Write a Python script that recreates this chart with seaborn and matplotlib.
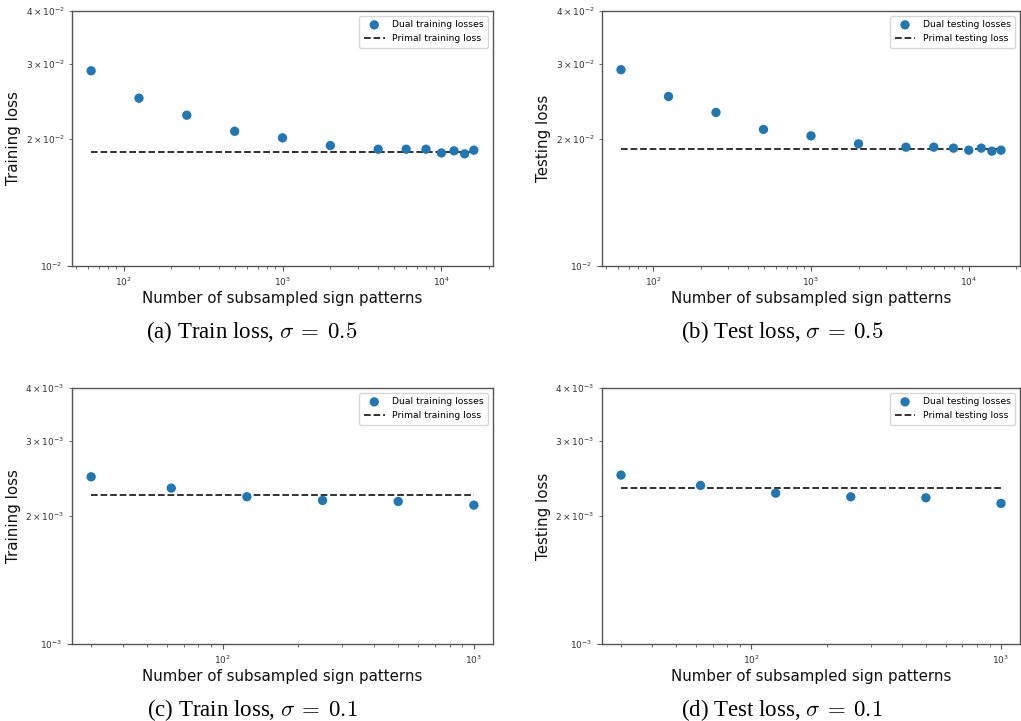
import numpy as np
import pandas as pd
import matplotlib
matplotlib.use("Agg")
import matplotlib.pyplot as plt
import seaborn as sns

# ---------------- data ----------------
patterns_s05 = [62.5, 125, 250, 500, 1000, 2000, 4000, 6000, 8000, 10000, 12000, 14000, 16000]
dual_train_s05 = [2.89e-2, 2.49e-2, 2.27e-2, 2.08e-2, 2.007e-2, 1.925e-2, 1.887e-2, 1.887e-2,
                  1.887e-2, 1.849e-2, 1.870e-2, 1.840e-2, 1.877e-2]
primal_train_s05 = 1.86e-2
dual_test_s05 = [2.907e-2, 2.513e-2, 2.304e-2, 2.101e-2, 2.029e-2, 1.943e-2, 1.908e-2, 1.908e-2,
                 1.898e-2, 1.877e-2, 1.898e-2, 1.867e-2, 1.877e-2]
primal_test_s05 = 1.884e-2

patterns_s01 = [30, 62.5, 125, 250, 500, 1000]
dual_train_s01 = [2.473e-3, 2.326e-3, 2.220e-3, 2.176e-3, 2.164e-3, 2.121e-3]
primal_train_s01 = 2.239e-3
dual_test_s01 = [2.496e-3, 2.360e-3, 2.263e-3, 2.219e-3, 2.207e-3, 2.141e-3]
primal_test_s01 = 2.322e-3

ylims_s05 = (1e-2, 4e-2)
ylims_s01 = (1e-3, 4e-3)

captions = ["(a) Train loss, $\\sigma\\:=\\:0.5$", "(b) Test loss, $\\sigma\\:=\\:0.5$",
            "(c) Train loss, $\\sigma\\:=\\:0.1$", "(d) Test loss, $\\sigma\\:=\\:0.1$"]
xlabel = "Number of subsampled sign patterns"

panels = [
    dict(x=patterns_s05, dual=dual_train_s05, primal=primal_train_s05, ylim=ylims_s05,
         ylabel="Training loss", dlab="Dual training losses", plab="Primal training loss"),
    dict(x=patterns_s05, dual=dual_test_s05, primal=primal_test_s05, ylim=ylims_s05,
         ylabel="Testing loss", dlab="Dual testing losses", plab="Primal testing loss"),
    dict(x=patterns_s01, dual=dual_train_s01, primal=primal_train_s01, ylim=ylims_s01,
         ylabel="Training loss", dlab="Dual training losses", plab="Primal training loss"),
    dict(x=patterns_s01, dual=dual_test_s01, primal=primal_test_s01, ylim=ylims_s01,
         ylabel="Testing loss", dlab="Dual testing losses", plab="Primal testing loss"),
]

# ---------------- style ----------------
plt.rcParams["font.family"] = ["DejaVu Sans"]
plt.rcParams["axes.edgecolor"] = "#555555"
plt.rcParams["xtick.color"] = "#555555"
plt.rcParams["ytick.color"] = "#555555"
plt.rcParams["xtick.labelcolor"] = "#333333"
plt.rcParams["ytick.labelcolor"] = "#333333"

fig = plt.figure(figsize=(10.21, 7.21), dpi=100)

W, H = 1021, 721
boxes = [(72, 11, 493, 266), (602, 11, 1020, 266), (72, 388, 493, 644), (602, 388, 1020, 644)]
cap_pos = [(252, 332), (782, 332), (252, 710), (782, 710)]

for p, (x0, y0, x1, y1), cap, (cx, cy) in zip(panels, boxes, captions, cap_pos):
    ax = fig.add_axes([x0 / W, 1 - y1 / H, (x1 - x0) / W, (y1 - y0) / H])
    df = pd.DataFrame({"n": p["x"], "dual": p["dual"], "primal": [p["primal"]] * len(p["x"])})
    sns.scatterplot(data=df, x="n", y="dual", ax=ax, color="#1f77b4", s=45,
                    edgecolor="none", label=p["dlab"], zorder=3)
    sns.lineplot(data=df, x="n", y="primal", ax=ax, color="#222222", linestyle="--",
                 linewidth=1.3, label=p["plab"], zorder=2)
    ax.set_xscale("log")
    ax.set_yscale("log")
    ax.set_ylim(*p["ylim"])
    ax.set_xlabel(xlabel, fontsize=10.8, color="#111111", labelpad=2)
    ax.set_ylabel(p["ylabel"], fontsize=10.8, color="#111111", labelpad=3)
    ax.tick_params(which="both", labelsize=6.5)
    ax.tick_params(which="major", length=3.5, width=0.8)
    ax.tick_params(which="minor", length=2, width=0.6)
    for s in ax.spines.values():
        s.set_linewidth(1.0)
    leg = ax.legend(loc="upper right", fontsize=6.7, frameon=True, borderpad=0.5,
                    handlelength=2.2)
    fig.text(cx / W, 1 - cy / H, cap, ha="center", va="center", fontsize=16.5,
             family="Liberation Serif", math_fontfamily="cm", color="black")

fig.savefig("out.png", dpi=100)
